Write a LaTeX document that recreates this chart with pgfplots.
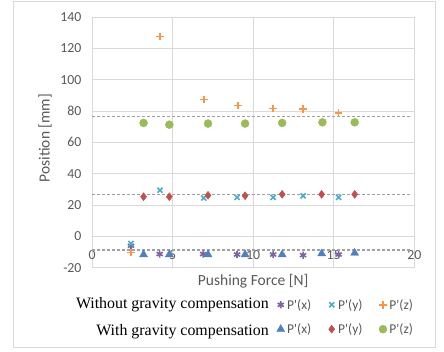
\documentclass[border=0pt]{standalone}
\usepackage{pgfplots}
\pgfplotsset{compat=1.18}
\usepackage{fontspec}
\setmainfont{Liberation Serif}
\newfontfamily\calibri{Carlito}
\definecolor{cPurple}{HTML}{8064A2}
\definecolor{cCyan}{HTML}{4BACC6}
\definecolor{cOrange}{HTML}{F79646}
\definecolor{cBlue}{HTML}{4F81BD}
\definecolor{cRed}{HTML}{C0504D}
\definecolor{cGreen}{HTML}{9BBB59}
\definecolor{cGrid}{HTML}{D9D9D9}
\definecolor{cText}{HTML}{595959}
\definecolor{cDash}{HTML}{A0A0A0}
\begin{document}
\begin{tikzpicture}[x=1pt,y=1pt]
\path (-92,267.7) rectangle (352,-83.3);
\draw[cGrid,line width=0.8pt] (-79,266.7) rectangle (343,-79.3);
\begin{axis}[
  at={(0,0)}, anchor=south west,
  scale only axis, width=322.3pt, height=250.7pt,
  xmin=0, xmax=20, ymin=-20, ymax=140,
  xtick={0,5,10,15,20}, xticklabels={0,5,10,15,20},
  ytick={-20,0,20,40,60,80,100,120,140},
  yticklabels={-20,0,20,40,60,80,100,120,140},
  major tick length=0pt,
  axis line style={draw=none},
  grid=major, grid style={draw=cGrid,line width=0.8pt},
  tick label style={font=\calibri\fontsize{13.8}{16}\selectfont, text=cText},
  xticklabel style={anchor=center, yshift=12.2pt},
  yticklabel style={xshift=-7pt},
  xlabel={Pushing Force [N]}, ylabel={Position [mm]},
  every axis x label/.style={at={(axis description cs:0.5,-0.053)}, anchor=center,
    font=\calibri\fontsize{15.5}{18}\selectfont, text=cText},
  every axis y label/.style={at={(axis description cs:-0.1458,0.517)}, anchor=center, rotate=90,
    font=\calibri\fontsize{15.5}{18}\selectfont, text=cText},
  legend columns=3,
  legend style={at={(0.571,-0.1967)}, anchor=west, draw=none, fill=none, inner sep=0pt,
    font=\calibri\fontsize{13.5}{16}\selectfont, text=cText,
    row sep=9pt, /tikz/every even column/.append style={column sep=14pt}},
  legend image code/.code={\path[draw=none,fill=none] (0pt,-3pt) rectangle (9pt,3pt); \draw[#1] plot coordinates {(4.5pt,0pt)};},
  clip=false,
]
\addplot[forget plot, color=cDash, line width=1.3pt, dash pattern=on 3pt off 2pt] coordinates {(0,76.5) (19.8,76.5)};
\addplot[forget plot, color=cDash, line width=1.3pt, dash pattern=on 3pt off 2pt] coordinates {(0,26.7) (19.8,26.7)};
\addplot[forget plot, color=cDash, line width=1.3pt, dash pattern=on 3pt off 2pt] coordinates {(0,-8.7) (19.8,-8.7)};
\addplot[only marks, color=cPurple, mark=asterisk, mark size=3.6pt, mark options={solid, line width=1.6pt}] coordinates {
 (2.42,-6) (4.2,-11.3) (6.9,-11.3) (9.0,-11.6) (11.24,-11.6) (13.1,-12) (15.3,-11.6)};
\addlegendentry{P'(x)}
\addplot[only marks, color=cCyan, mark=x, mark size=3.6pt, mark options={solid, line width=1.6pt}] coordinates {
 (2.42,-4.5) (4.22,29.5) (6.94,24.5) (9.0,24.9) (11.24,24.9) (13.1,25.9) (15.3,24.9)};
\addlegendentry{P'(y)}
\addplot[only marks, color=cOrange, mark=+, mark size=3.8pt, mark options={solid, line width=1.6pt}] coordinates {
 (2.42,-10.3) (4.22,127.6) (6.94,87.3) (9.05,83.5) (11.24,81.6) (13.09,81.1) (15.3,78.6)};
\addlegendentry{P'(z)}
\addplot[only marks, color=cBlue, mark=triangle*, mark size=4.6pt, mark options={solid}] coordinates {
 (3.2,-11.6) (4.8,-11.6) (7.2,-11.6) (9.5,-11.6) (11.8,-11.6) (14.25,-11) (16.3,-10.6)};
\addlegendentry{P'(x)}
\addplot[only marks, color=cRed, mark=diamond*, mark size=4pt, mark options={solid}] coordinates {
 (3.2,25.3) (4.8,25.3) (7.2,26.2) (9.5,25.9) (11.8,26.8) (14.25,26.8) (16.3,26.8)};
\addlegendentry{P'(y)}
\addplot[only marks, color=cGreen, mark=*, mark size=4pt, mark options={solid}] coordinates {
 (3.2,72.4) (4.8,71.3) (7.2,72.0) (9.5,72.0) (11.8,72.4) (14.3,72.8) (16.3,72.8)};
\addlegendentry{P'(z)}
\end{axis}
\node[anchor=base east, inner sep=0pt, font=\fontsize{15.9}{18}\selectfont] at (177,-40.6) {Without gravity compensation};
\node[anchor=base east, inner sep=0pt, font=\fontsize{15.9}{18}\selectfont] at (177,-68) {With gravity compensation};
\end{tikzpicture}
\end{document}
